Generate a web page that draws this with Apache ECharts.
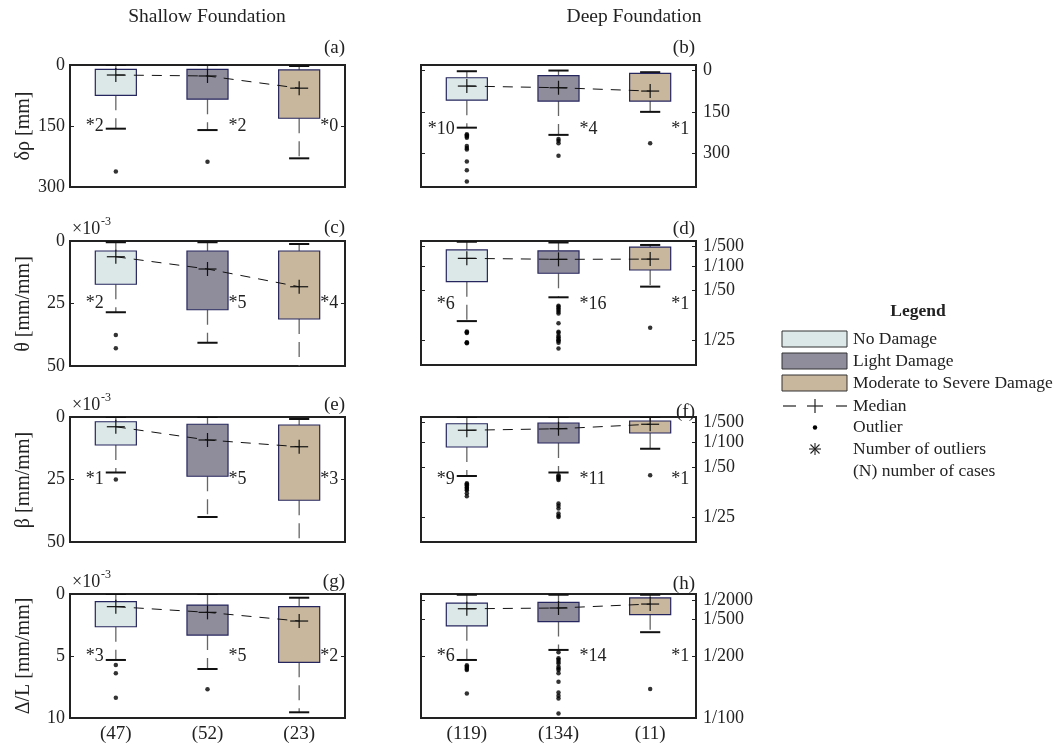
<!DOCTYPE html>
<html><head><meta charset="utf-8">
<script src="https://cdn.jsdelivr.net/npm/echarts@6/dist/echarts.min.js"></script>
<style>html,body{margin:0;padding:0;background:#fff}#c{width:1060px;height:747px}</style>
</head><body><div id="c"></div>
<script>
// ---------------- DATA ----------------
const casesShallow = ['(47)', '(52)', '(23)'];
const casesDeep = ['(119)', '(134)', '(11)'];
const damageClasses = ['No Damage', 'Light Damage', 'Moderate to Severe Damage'];

// each box: [lower whisker end, Q1, median, Q3, upper whisker end]  (value axis reversed)
// (a) shallow, settlement δρ [mm]
const statsA = [[0, 10.7, 24.6, 74.6, 156.6], [0, 10.7, 27, 84, 160], [2.5, 12, 57, 131, 229.5]];
const outliersA = [[262], [238], []];
const countsA = [2, 2, 0];
// (b) deep, settlement δρ [mm]
const statsB = [[2.5, 26, 56, 107, 206], [0, 18, 62, 110, 232], [6, 10, 74, 110, 149]];
const outliersB = [[230, 233, 238, 242, 272, 279, 285, 328, 360, 400], [247, 253, 262, 307], [262]];
const countsB = [10, 4, 1];
// (c) shallow, θ [×10^-3 mm/mm]
const statsC = [[0.5, 4, 6.3, 17.3, 28.5], [0.5, 4, 11.2, 27.5, 40.7], [1.2, 4, 18.3, 31.2, 55]];
const outliersC = [[37.6, 42.9], [], []];
const countsC = [2, 5, 4];
// (d) deep, θ
const statsD = [[0.3, 3.6, 7, 16.4, 32.3], [0.6, 4, 7.4, 13, 22.7], [1.6, 2.5, 7.3, 11.7, 18.4]];
const outliersD = [[36.5, 36.8, 37.1, 40.8, 41, 41.2],
  [26.1, 26.5, 27.2, 27.8, 28.5, 29.2, 33.2, 36.6, 37.0, 38.2, 38.8, 39.5, 40.0, 40.3, 41.0, 43.3], [35]];
const countsD = [6, 16, 1];
// (e) shallow, β [×10^-3 mm/mm]
const statsE = [[0, 1.9, 3.9, 11.2, 22.2], [0, 2.9, 9.2, 23.7, 40], [0.8, 3.2, 11.9, 33.3, 56]];
const outliersE = [[25], [], []];
const countsE = [1, 5, 3];
// (f) deep, β
const statsF = [[0, 2.7, 5.3, 12, 23.6], [0, 2.4, 4.7, 10.4, 22.2], [0, 1.6, 2.9, 6.4, 12.7]];
const outliersF = [[26.5, 26.9, 27.3, 28.0, 28.3, 28.8, 29.3, 30.5, 31.7],
  [23.3, 23.8, 24.3, 24.7, 25.2, 34.6, 35.5, 36.6, 38.6, 39.5, 40], [23.3]];
const countsF = [9, 11, 1];
// (g) shallow, Δ/L [×10^-3 mm/mm]
const statsG = [[0, 0.62, 1.02, 2.64, 5.32], [0, 0.89, 1.48, 3.31, 6.05], [0.3, 1.02, 2.18, 5.51, 9.54]];
const outliersG = [[5.73, 6.4, 8.36], [7.69], []];
const countsG = [3, 5, 2];
// (h) deep, Δ/L
const statsH = [[0.06, 0.73, 1.19, 2.57, 5.32], [0.06, 0.68, 1.13, 2.22, 4.51], [0.06, 0.32, 0.81, 1.67, 3.08]];
const outliersH = [[5.75, 5.85, 5.95, 6.05, 6.13, 8.02],
  [4.7, 5.19, 5.3, 5.46, 5.6, 5.87, 6.0, 6.13, 6.4, 7.08, 7.94, 8.2, 8.43, 9.64], [7.67]];
const countsH = [6, 14, 1];

// tick labels
const tickValuesSettleDeep = [0, 150, 300];
const tickValuesRatio = [2, 10, 20, 40];
const tickLabelsRatio = ['1/500', '1/100', '1/50', '1/25'];
const tickValuesDefl = [0.5, 2, 5, 10];
const tickLabelsDefl = ['1/2000', '1/500', '1/200', '1/100'];

// ---------------- LAYOUT / STYLE ----------------
const FONT = '"Liberation Serif", "Times New Roman", serif';
const boxColors = ['#dce8e8', '#8f8c9c', '#c9b79d'];
const L = 70, R = 421, W = 275;
const panels = [
  { s: statsA, o: outliersA, n: countsA, cats: casesShallow, col: 0, top: 65, h: 122, min: 0, max: 300, interval: 150, lvl: 150, bottom: false },
  { s: statsB, o: outliersB, n: countsB, cats: casesDeep, col: 1, top: 65, h: 122, min: -20, max: 420, ticks: tickValuesSettleDeep, labels: null, lvl: 213, bottom: false },
  { s: statsC, o: outliersC, n: countsC, cats: casesShallow, col: 0, top: 241, h: 125, min: 0, max: 50, interval: 25, lvl: 25, bottom: false },
  { s: statsD, o: outliersD, n: countsD, cats: casesDeep, col: 1, top: 241, h: 124, min: 0, max: 50, ticks: tickValuesRatio, labels: tickLabelsRatio, lvl: 25.4, bottom: false },
  { s: statsE, o: outliersE, n: countsE, cats: casesShallow, col: 0, top: 417, h: 125, min: 0, max: 50, interval: 25, lvl: 25, bottom: false },
  { s: statsF, o: outliersF, n: countsF, cats: casesDeep, col: 1, top: 417, h: 125, min: 0, max: 50, ticks: tickValuesRatio, labels: tickLabelsRatio, lvl: 25, bottom: false },
  { s: statsG, o: outliersG, n: countsG, cats: casesShallow, col: 0, top: 594, h: 124, min: 0, max: 10, interval: 5, lvl: 5, bottom: true },
  { s: statsH, o: outliersH, n: countsH, cats: casesDeep, col: 1, top: 594, h: 124, min: 0, max: 10, ticks: tickValuesDefl, labels: tickLabelsDefl, lvl: 5, bottom: true }
];

function makeBoxRenderer(lvl) {
  return function (params, api) {
    const i = api.value(0);
    const band = api.size([1, 0])[0];
    const x = api.coord([i, 0])[0];
    const y = v => api.coord([i, v])[1];
    const yMin = y(api.value(1)), yQ1 = y(api.value(2)), yMed = y(api.value(3)),
      yQ3 = y(api.value(4)), yMax = y(api.value(5));
    const count = api.value(6);
    const hw = band * 0.224, cw = band * 0.11;
    const whisker = { stroke: '#666', lineWidth: 1.3, lineDash: [15, 8] };
    const cap = { stroke: '#111', lineWidth: 2 };
    const cross = { stroke: '#111', lineWidth: 1.2 };
    const yl = y(lvl);
    const lx = i === 0 ? x - 12 : x + 21;
    const al = i === 0 ? 'right' : 'left';
    return {
      type: 'group', children: [
        { type: 'line', shape: { x1: x, y1: yMin, x2: x, y2: yQ1 }, style: whisker },
        { type: 'line', shape: { x1: x, y1: yQ3, x2: x, y2: yMax }, style: whisker },
        { type: 'line', shape: { x1: x - cw, y1: yMin, x2: x + cw, y2: yMin }, style: cap },
        { type: 'line', shape: { x1: x - cw, y1: yMax, x2: x + cw, y2: yMax }, style: cap },
        { type: 'rect', shape: { x: x - hw, y: yQ1, width: 2 * hw, height: yQ3 - yQ1 }, style: { fill: boxColors[i], stroke: '#26265e', lineWidth: 1.2 } },
        { type: 'line', shape: { x1: x - 9, y1: yMed, x2: x + 9, y2: yMed }, style: cross },
        { type: 'line', shape: { x1: x, y1: yMed - 7, x2: x, y2: yMed + 7 }, style: cross },
        { type: 'text', x: lx, y: yl, style: { text: '*' + count, font: '18px ' + FONT, fill: '#222', align: al, verticalAlign: 'middle', textAlign: al, textVerticalAlign: 'middle' } }
      ]
    };
  };
}

const grid = [], xAxis = [], yAxis = [], series = [];
panels.forEach((p, k) => {
  grid.push({ left: p.col ? R : L, top: p.top, width: W, height: p.h, show: true, borderColor: '#222', borderWidth: 2, backgroundColor: 'transparent' });
  xAxis.push({
    gridIndex: k, type: 'category', data: p.cats, boundaryGap: true,
    axisLine: { show: false }, axisTick: { show: false }, splitLine: { show: false },
    axisLabel: { show: p.bottom, fontFamily: FONT, fontSize: 19, color: '#222', margin: 7 }
  });
  const base = { gridIndex: k, type: 'value', inverse: true, min: p.min, max: p.max, axisLine: { show: false }, splitLine: { show: false } };
  const tick = { show: true, inside: true, length: 4, lineStyle: { color: '#222', width: 1 } };
  if (p.col === 0) {
    yAxis.push(Object.assign({}, base, { position: 'left', interval: p.interval, axisTick: tick, axisLabel: { fontFamily: FONT, fontSize: 18, color: '#222', margin: 5 } }));
    yAxis.push(Object.assign({}, base, { position: 'right', interval: p.interval, axisTick: tick, axisLabel: { show: false } }));
  } else {
    const t2 = Object.assign({}, tick, { customValues: p.ticks });
    yAxis.push(Object.assign({}, base, { position: 'left', axisTick: t2, axisLabel: { show: false, customValues: p.ticks } }));
    const labs = p.labels;
    yAxis.push(Object.assign({}, base, {
      position: 'right', axisTick: t2,
      axisLabel: {
        customValues: p.ticks, fontFamily: FONT, fontSize: 18, color: '#222', margin: 7,
        formatter: v => labs ? labs[p.ticks.indexOf(v)] : String(v)
      }
    }));
  }
  series.push({
    type: 'custom', xAxisIndex: k, yAxisIndex: 2 * k, clip: true, z: 2,
    renderItem: makeBoxRenderer(p.lvl),
    data: p.s.map((b, i) => [i, b[0], b[1], b[2], b[3], b[4], p.n[i]]),
    encode: { x: 0, y: [1, 2, 3, 4, 5] }
  });
  series.push({
    type: 'line', xAxisIndex: k, yAxisIndex: 2 * k, z: 3, symbol: 'none', silent: true,
    data: p.s.map(b => b[2]), lineStyle: { color: '#111', width: 1, type: [10, 8] }
  });
  const pts = [];
  p.o.forEach((arr, i) => arr.forEach(v => pts.push([i, v])));
  series.push({
    type: 'scatter', xAxisIndex: k, yAxisIndex: 2 * k, z: 4, symbolSize: 4.5,
    itemStyle: { color: '#000' }, data: pts
  });
});

function txt(text, x, y, size, align, extra) {
  return Object.assign({
    type: 'text', x: x, y: y, silent: true,
    style: { text: text, font: size + 'px ' + FONT, fill: '#222', align: align, verticalAlign: 'middle', textAlign: align, textVerticalAlign: 'middle' }
  }, extra || {});
}
function ln(x1, y1, x2, y2, w, c) {
  return { type: 'line', silent: true, shape: { x1, y1, x2, y2 }, style: { stroke: c || '#222', lineWidth: w || 1.2 } };
}

const graphic = [
  txt('Shallow Foundation', 207, 17, 19.5, 'center'),
  txt('Deep Foundation', 634, 17, 19.5, 'center'),
  txt('(a)', 345, 48, 19, 'right'), txt('(b)', 695, 48, 19, 'right'),
  txt('(c)', 345, 228, 19, 'right'), txt('(d)', 695, 229, 19, 'right'),
  txt('(e)', 345, 405, 19, 'right'), txt('(f)', 695, 412, 19, 'right'),
  txt('(g)', 345, 582, 19, 'right'), txt('(h)', 695, 584, 19, 'right'),
  txt('×10', 72, 229, 18, 'left'), txt('-3', 101, 222, 12, 'left'),
  txt('×10', 72, 405, 18, 'left'), txt('-3', 101, 398, 12, 'left'),
  txt('×10', 72, 582, 18, 'left'), txt('-3', 101, 575, 12, 'left'),
  txt('δρ [mm]', 24, 126, 20, 'center', { rotation: Math.PI / 2 }),
  txt('θ [mm/mm]', 24, 304, 20, 'center', { rotation: Math.PI / 2 }),
  txt('β [mm/mm]', 24, 480, 20, 'center', { rotation: Math.PI / 2 }),
  txt('Δ/L [mm/mm]', 24, 656, 20, 'center', { rotation: Math.PI / 2 }),
  // legend
  txt('Legend', 918, 311, 17.5, 'center', { style: { text: 'Legend', font: 'bold 17.5px ' + FONT, fill: '#222', align: 'center', verticalAlign: 'middle', textAlign: 'center', textVerticalAlign: 'middle' } })
];
const legendRows = [339, 361, 383];
damageClasses.forEach((name, i) => {
  graphic.push({ type: 'rect', silent: true, shape: { x: 782, y: legendRows[i] - 8, width: 65, height: 16 }, style: { fill: boxColors[i], stroke: '#333', lineWidth: 1 } });
  graphic.push(txt(name, 853, legendRows[i], 17.5, 'left'));
});
graphic.push(ln(783, 406, 796, 406), ln(807, 406, 823, 406), ln(815, 399, 815, 413), ln(836, 406, 847, 406));
graphic.push(txt('Median', 853, 406, 17.5, 'left'));
graphic.push({ type: 'circle', silent: true, shape: { cx: 815, cy: 427.5, r: 2.2 }, style: { fill: '#000' } });
graphic.push(txt('Outlier', 853, 427.5, 17.5, 'left'));
graphic.push(ln(815, 443, 815, 455, 1.1), ln(809, 449, 821, 449, 1.1), ln(810.5, 444.5, 819.5, 453.5, 1.1), ln(810.5, 453.5, 819.5, 444.5, 1.1));
graphic.push(txt('Number of outliers', 853, 449, 17.5, 'left'));
graphic.push(txt('(N) number of cases', 853, 471.5, 17.5, 'left'));

const chart = echarts.init(document.getElementById('c'), null, { renderer: 'canvas' });
chart.setOption({
  animation: false, backgroundColor: '#fff',
  textStyle: { fontFamily: FONT },
  grid, xAxis, yAxis, series, graphic
});
</script></body></html>
